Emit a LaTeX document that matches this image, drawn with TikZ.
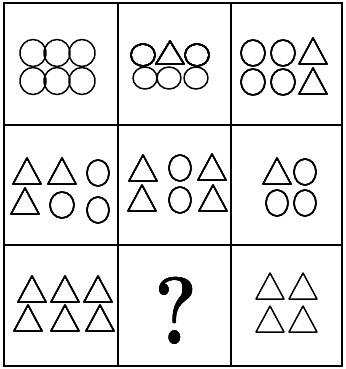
\documentclass[tikz,border=0pt]{standalone}
\usepackage{tikz}

% one triangle (centre x, centre y) and one ring (centre x, centre y, rx, ry)
\newcommand{\tri}[2]{\draw[figline] (#1-14,#2+13) -- (#1+14,#2+13) -- (#1,#2-13) -- cycle;}
\newcommand{\ring}[4]{\draw[figline] (#1,#2) ellipse ({#3pt} and {#4pt});}

\begin{document}
\begin{tikzpicture}[x=1pt,y=-1pt,
		figline/.style={line width=1.5pt,line join=round},
		gridline/.style={line width=1.8pt}]
		\useasboundingbox (0,0) rectangle (345,369);
		% frame and cells
		\draw[gridline] (4,3) rectangle (342,366);
		\draw[gridline] (118,3) -- (118,366);
		\draw[gridline] (231,3) -- (231,366);
		\draw[gridline] (4,125) -- (342,125);
		\draw[gridline] (4,245) -- (342,245);
		% row 1
		\foreach \x in {33,57,82}
			\foreach \y in {53,81}
				\ring{\x}{\y}{13}{13.5}
		\ring{143}{55}{12}{11}
		\ring{197}{55}{12}{11}
		\draw[figline] (156,64) -- (184,64) -- (170,41) -- cycle;
		\foreach \x in {145,169,196}
			\ring{\x}{78}{12}{11}
		\ring{253}{53}{12}{13}
		\ring{283}{53}{12}{13}
		\ring{253}{82}{12}{13}
		\ring{283}{82}{12}{13}
		\tri{313}{51}
		\tri{313}{81}
		% row 2
		\tri{27}{171}
		\tri{62}{171}
		\ring{98}{173}{11}{13}
		\tri{25}{201}
		\ring{62}{205}{12}{13}
		\ring{98}{210}{11}{13}
		\tri{143}{168}
		\ring{180}{168}{11}{13}
		\tri{212}{167}
		\tri{142}{198}
		\ring{180}{200}{11}{13}
		\tri{213}{198}
		\tri{277}{171}
		\ring{305}{172}{11}{13}
		\ring{277}{203}{11}{13}
		\ring{305}{203}{11}{13}
		% row 3
		\tri{32}{289}
		\tri{65}{289}
		\tri{98}{289}
		\tri{28}{318}
		\tri{65}{318}
		\tri{100}{318}
		\node[font=\fontsize{96}{96}\bfseries\selectfont,xscale=0.85,inner sep=0pt] (quest) at (176,311) {?};
		\tri{270}{286}
		\tri{303}{286}
		\tri{270}{319}
		\tri{303}{319}
	\end{tikzpicture}
\end{document}
